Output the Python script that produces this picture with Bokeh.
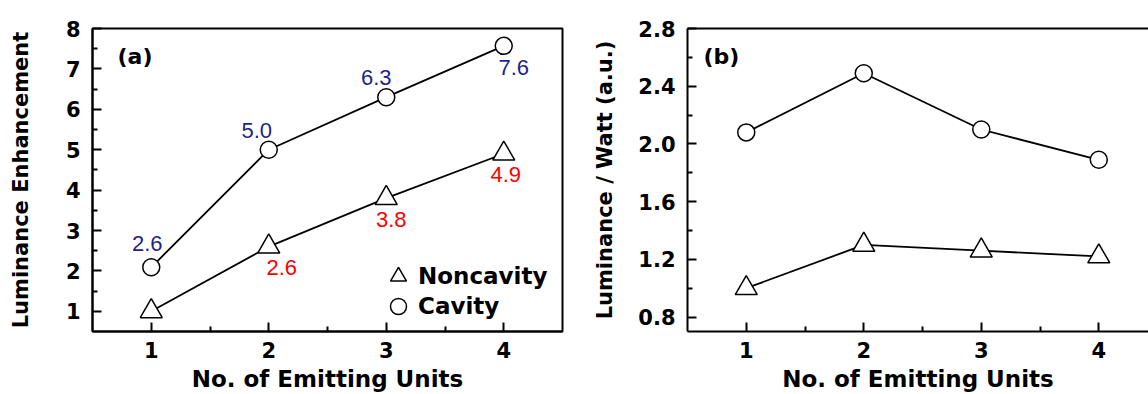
from bokeh.plotting import figure
from bokeh.layouts import row
from bokeh.models import (FixedTicker, LinearAxis, Legend, LegendItem, Label,
                          Range1d, PrintfTickFormatter)
from bokeh.core.properties import value
from bokeh.embed import file_html
from bokeh.resources import INLINE

# ---------------- data ----------------
units = [1, 2, 3, 4]
enh_noncavity = [1.0, 2.6, 3.8, 4.9]
enh_cavity = [2.09, 5.0, 6.3, 7.57]
cavity_labels = ["2.6", "5.0", "6.3", "7.6"]
noncavity_labels = ["2.6", "3.8", "4.9"]          # for units 2..4
eff_noncavity = [1.00, 1.30, 1.26, 1.22]
eff_cavity = [2.08, 2.49, 2.10, 1.89]
x_ticks = [1, 2, 3, 4]
x_minor = [1.5, 2.5, 3.5]
y_ticks_a = [1, 2, 3, 4, 5, 6, 7, 8]
y_minor_a = [1.5, 2.5, 3.5, 4.5, 5.5, 6.5, 7.5]
y_ticks_b = [0.8, 1.2, 1.6, 2.0, 2.4, 2.8]
y_minor_b = [1.0, 1.4, 1.8, 2.2, 2.6]

# label placement (screen px offsets, +y = down)
cav_dx = [-4, -12, -10, 10]
cav_dy = [-24, -19, -20, 22]
non_dx = [13, 5, 2]
non_dy = [21, 21, 21]

BOLD = "DejaVu Sans"
BLUE = "#1f1f90"
RED = "#ff0000"


def style_axes(p, yticks, yminor, ylabel, ylab_standoff, yfmt=None):
    for ax in (p.xaxis[0], p.yaxis[0]):
        ax.axis_line_width = 2
        ax.axis_line_color = "black"
        ax.major_tick_in = 9
        ax.major_tick_out = 0
        ax.minor_tick_in = 5
        ax.minor_tick_out = 0
        ax.major_tick_line_width = 2
        ax.minor_tick_line_width = 2
        ax.major_tick_line_color = "black"
        ax.minor_tick_line_color = "black"
        ax.major_label_text_font = BOLD
        ax.major_label_text_font_style = "bold"
        ax.major_label_text_font_size = "21px"
        ax.major_label_text_color = "black"
        ax.axis_label_text_font = BOLD
        ax.axis_label_text_font_style = "bold"
        ax.axis_label_text_color = "black"
    p.xaxis[0].axis_label_text_font_size = "23px"
    p.yaxis[0].axis_label_text_font_size = "21px"
    p.xaxis[0].ticker = FixedTicker(ticks=x_ticks, minor_ticks=x_minor)
    p.xaxis[0].axis_label = "No. of Emitting Units"
    p.xaxis[0].major_label_standoff = 10
    p.xaxis[0].axis_label_standoff = 5
    p.yaxis[0].ticker = FixedTicker(ticks=yticks, minor_ticks=yminor)
    p.yaxis[0].axis_label = ylabel
    p.yaxis[0].major_label_standoff = 12
    p.yaxis[0].axis_label_standoff = ylab_standoff
    if yfmt:
        p.yaxis[0].formatter = PrintfTickFormatter(format=yfmt)
    p.xgrid.visible = False
    p.ygrid.visible = False


def make_legend(renderer, label, y):
    return Legend(items=[LegendItem(label=label, renderers=[renderer])],
                  location=(286, y), glyph_width=40, glyph_height=40, label_height=40,
                  padding=0, margin=0, label_standoff=0,
                  background_fill_alpha=0, border_line_color=None,
                  label_text_font=BOLD, label_text_font_style="bold",
                  label_text_font_size="23px", label_text_color="black")


# ---------------- panel (a) ----------------
pa = figure(width=580, height=394, x_range=Range1d(0.5, 4.5), y_range=Range1d(0.5, 8.0),
            output_backend="svg", toolbar_location=None,
            min_border_left=92, min_border_right=18, min_border_top=28, min_border_bottom=62)
pa.outline_line_color = "black"
pa.outline_line_width = 2
pa.outline_line_alpha = 1
style_axes(pa, y_ticks_a, y_minor_a, "Luminance Enhancement", 30)

pa.line(units, enh_cavity, line_color="black", line_width=1.8)
pa.line(units, enh_noncavity, line_color="black", line_width=1.8)
ra_c = pa.scatter(units, enh_cavity, marker="circle", size=17, fill_color="white",
                  line_color="black", line_width=1.5)
ra_t = pa.scatter(units, enh_noncavity, marker="triangle", size=22, fill_color="white",
                  line_color="black", line_width=1.5)

pa.text(x=units, y=enh_cavity, text=cavity_labels, x_offset=cav_dx, y_offset=cav_dy,
        text_font=value("Liberation Sans"), text_font_size="22px", text_color=BLUE,
        text_align="center", text_baseline="middle")
pa.text(x=units[1:], y=enh_noncavity[1:], text=noncavity_labels, x_offset=non_dx, y_offset=non_dy,
        text_font=value("Liberation Sans"), text_font_size="22px", text_color=RED,
        text_align="center", text_baseline="middle")

pa.add_layout(Label(x=25, y=275, x_units="screen", y_units="screen", text="(a)",
                    text_font=BOLD, text_font_style="bold", text_font_size="22px",
                    text_baseline="middle", text_align="left", text_color="black"))

pa.add_layout(make_legend(ra_t, "Noncavity", 35))
pa.add_layout(make_legend(ra_c, "Cavity", 5))

# ---------------- panel (b) ----------------
pb = figure(width=568, height=394, x_range=Range1d(0.5, 4.423), y_range=Range1d(0.7, 2.8),
            output_backend="svg", toolbar_location=None,
            min_border_left=107, min_border_right=0, min_border_top=28, min_border_bottom=62)
pb.outline_line_color = None
style_axes(pb, y_ticks_b, y_minor_b, "Luminance / Watt (a.u.)", 18, "%.1f")
top_ax = LinearAxis(ticker=FixedTicker(ticks=[]), axis_line_width=2, axis_line_color="black",
                    major_tick_in=0, major_tick_out=0, minor_tick_in=0, minor_tick_out=0,
                    major_label_text_font_size="0px")
pb.add_layout(top_ax, "above")

pb.line(units, eff_cavity, line_color="black", line_width=1.8)
pb.line(units, eff_noncavity, line_color="black", line_width=1.8)
pb.scatter(units, eff_cavity, marker="circle", size=17, fill_color="white",
           line_color="black", line_width=1.5)
pb.scatter(units, eff_noncavity, marker="triangle", size=22, fill_color="white",
           line_color="black", line_width=1.5)

pb.add_layout(Label(x=16, y=275, x_units="screen", y_units="screen", text="(b)",
                    text_font=BOLD, text_font_style="bold", text_font_size="22px",
                    text_baseline="middle", text_align="left", text_color="black"))

layout = row(pa, pb)
open("out.html", "w").write(file_html(layout, INLINE))
